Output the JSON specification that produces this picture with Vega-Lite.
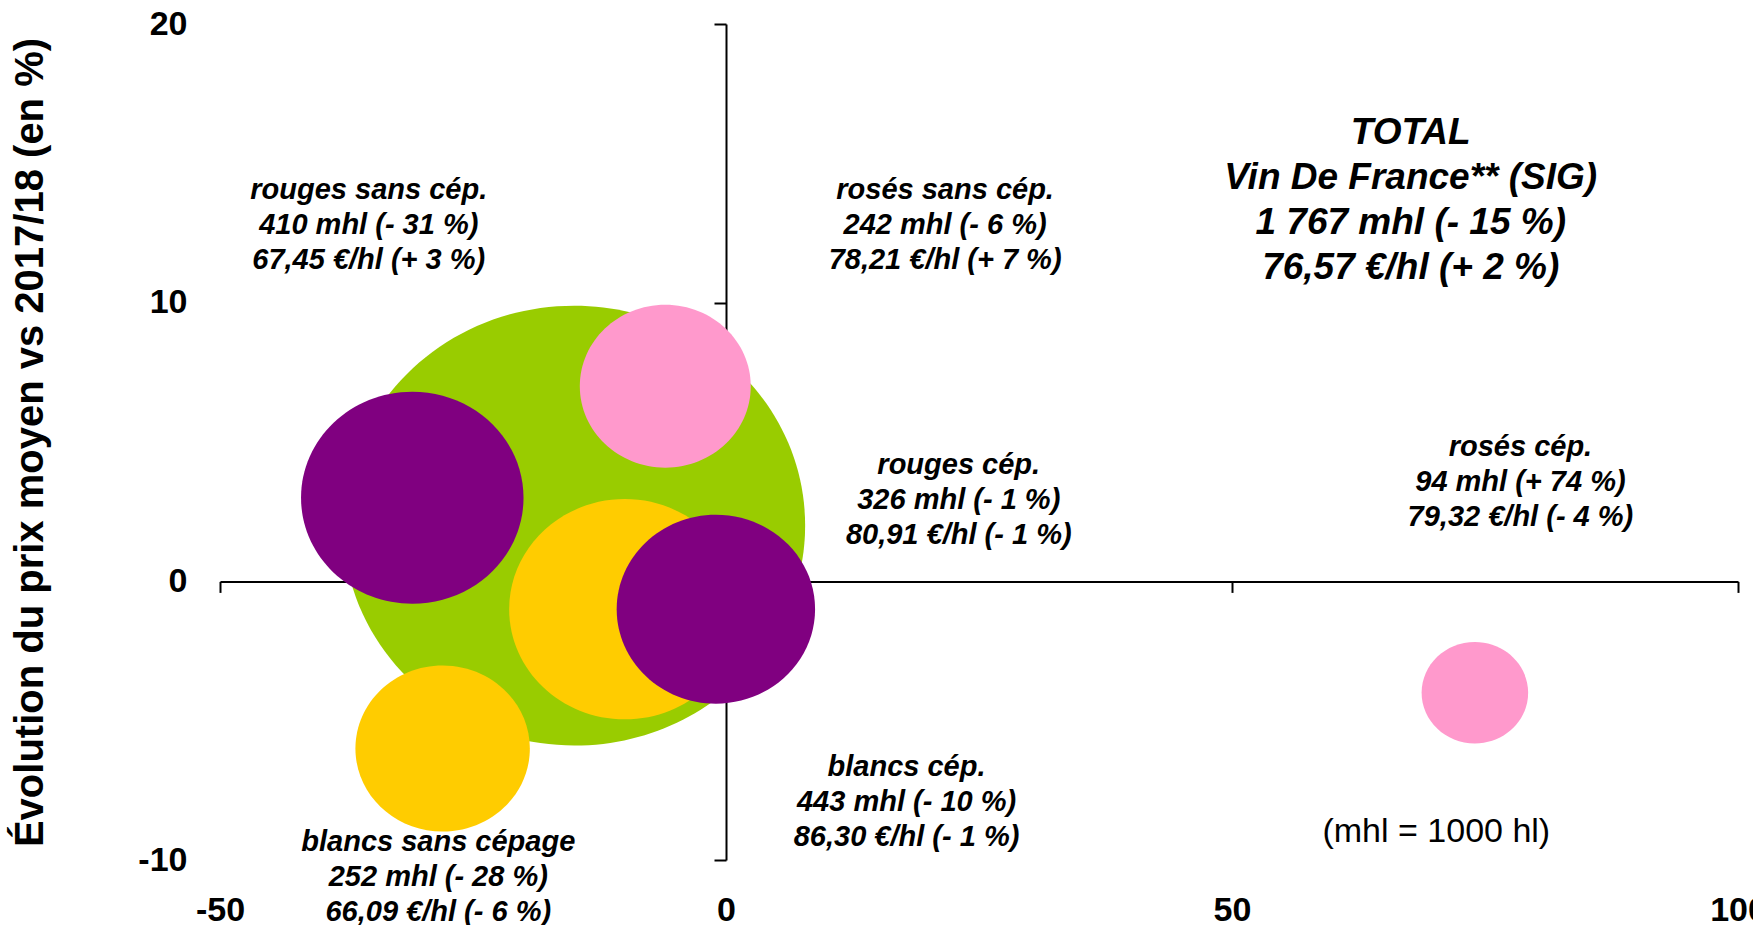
{
  "$schema": "https://vega.github.io/schema/vega-lite/v6.json",
  "width": 1518,
  "height": 836,
  "autosize": {"type": "none"},
  "padding": {"left": 220, "top": 24, "right": 15, "bottom": 65},
  "background": "white",
  "config": {"view": {"stroke": null}, "font": "Liberation Sans"},
  "datasets": {
    "bubbles": [
      {"cat": "TOTAL Vin De France", "type": "total", "vol": 1767, "dvol": -15, "dprix": 2, "z": 0},
      {"cat": "rouges sans cép.", "type": "rouge", "vol": 410, "dvol": -31, "dprix": 3, "z": 1},
      {"cat": "rosés sans cép.", "type": "rose", "vol": 242, "dvol": -6, "dprix": 7, "z": 2},
      {"cat": "blancs cép.", "type": "blanc", "vol": 443, "dvol": -10, "dprix": -1, "z": 3},
      {"cat": "rouges cép.", "type": "rouge", "vol": 326, "dvol": -1, "dprix": -1, "z": 4},
      {"cat": "blancs sans cépage", "type": "blanc", "vol": 252, "dvol": -28, "dprix": -6, "z": 5},
      {"cat": "rosés cép.", "type": "rose", "vol": 94, "dvol": 74, "dprix": -4, "z": 6}
    ],
    "labels": [
      {"lx": -35.3, "ly": 14.04, "txt": "rouges sans cép.\n410 mhl (- 31 %)\n67,45 €/hl (+ 3 %)"},
      {"lx": 21.65, "ly": 14.04, "txt": "rosés sans cép.\n242 mhl (- 6 %)\n78,21  €/hl (+ 7 %)"},
      {"lx": 23.0, "ly": 4.16, "txt": "rouges cép.\n326 mhl (- 1 %)\n80,91 €/hl (- 1 %)"},
      {"lx": 78.5, "ly": 4.81, "txt": "rosés cép.\n94 mhl (+ 74 %)\n79,32 €/hl (- 4 %)"},
      {"lx": 17.84, "ly": -6.67, "txt": "blancs cép.\n443 mhl (- 10 %)\n86,30 €/hl (- 1 %)"},
      {"lx": -28.43, "ly": -9.36, "txt": "blancs sans cépage\n252 mhl (- 28 %)\n66,09 €/hl (- 6 %)"}
    ],
    "total": [
      {"lx": 67.66, "ly": 16.08, "txt": "TOTAL\nVin De France** (SIG)\n1 767 mhl (- 15 %)\n76,57 €/hl (+ 2 %)"}
    ],
    "note": [
      {"lx": 70.19, "ly": -9.0, "txt": "(mhl = 1000 hl)"}
    ]
  },
  "layer": [
    {
      "data": {"name": "bubbles"},
      "mark": {"type": "point", "filled": true, "opacity": 1, "strokeWidth": 0,
               "shape": "M -1.05 0 A 1.05 1 0 1 0 1.05 0 A 1.05 1 0 1 0 -1.05 0 Z"},
      "encoding": {
        "x": {"field": "dvol", "type": "quantitative",
              "scale": {"domain": [-50, 100], "nice": false, "zero": false},
              "axis": {"title": null, "values": [-50, 0, 50, 100], "offset": -278.6,
                       "labelExpr": "'' + datum.value",
                       "domainColor": "black", "domainWidth": 2, "tickColor": "black", "tickWidth": 2,
                       "tickSize": 11, "labelPadding": 301, "labelFont": "Liberation Sans",
                       "labelFontSize": 34, "labelFontWeight": "bold", "labelColor": "black",
                       "grid": false, "labelFlush": false, "labelOverlap": false, "labelBound": false}},
        "y": {"field": "dprix", "type": "quantitative",
              "scale": {"domain": [-10, 20], "nice": false, "zero": false},
              "axis": {"title": "Évolution du prix moyen vs 2017/18 (en %)", "values": [-10, 0, 10, 20],
                       "labelExpr": "'' + datum.value",
                       "offset": -506, "domainColor": "black", "domainWidth": 2, "tickColor": "black",
                       "tickWidth": 2, "tickSize": 12, "labelPadding": 527, "labelFont": "Liberation Sans",
                       "labelFontSize": 34, "labelFontWeight": "bold", "labelColor": "black",
                       "grid": false, "labelOverlap": false, "labelBound": false, "labelFlush": false,
                       "maxExtent": 800,
                       "titleFont": "Liberation Sans", "titleFontSize": 40, "titleFontWeight": "bold",
                       "titleColor": "black", "titlePadding": 87}},
        "size": {"field": "vol", "type": "quantitative", "scale": {"domain": [0, 1767], "range": [0, 193500]}, "legend": null},
        "color": {"field": "type", "type": "nominal",
                  "scale": {"domain": ["total", "rouge", "rose", "blanc"], "range": ["#99CC00", "#800080", "#FF99CC", "#FFCC00"]},
                  "legend": null},
        "order": {"field": "z", "type": "quantitative"}
      }
    },
    {
      "data": {"name": "labels"},
      "mark": {"type": "text", "font": "Liberation Sans", "fontSize": 29, "fontWeight": "bold", "fontStyle": "italic",
               "lineBreak": "\n", "lineHeight": 35, "align": "center", "baseline": "middle", "color": "black"},
      "encoding": {
        "x": {"field": "lx", "type": "quantitative", "scale": {"domain": [-50, 100], "nice": false, "zero": false}},
        "y": {"field": "ly", "type": "quantitative", "scale": {"domain": [-10, 20], "nice": false, "zero": false}},
        "text": {"field": "txt"}
      }
    },
    {
      "data": {"name": "total"},
      "mark": {"type": "text", "font": "Liberation Sans", "fontSize": 37, "fontWeight": "bold", "fontStyle": "italic",
               "lineBreak": "\n", "lineHeight": 45, "align": "center", "baseline": "middle", "color": "black"},
      "encoding": {
        "x": {"field": "lx", "type": "quantitative", "scale": {"domain": [-50, 100], "nice": false, "zero": false}},
        "y": {"field": "ly", "type": "quantitative", "scale": {"domain": [-10, 20], "nice": false, "zero": false}},
        "text": {"field": "txt"}
      }
    },
    {
      "data": {"name": "note"},
      "mark": {"type": "text", "font": "Liberation Sans", "fontSize": 34, "fontWeight": "normal",
               "align": "center", "baseline": "middle", "color": "black"},
      "encoding": {
        "x": {"field": "lx", "type": "quantitative", "scale": {"domain": [-50, 100], "nice": false, "zero": false}},
        "y": {"field": "ly", "type": "quantitative", "scale": {"domain": [-10, 20], "nice": false, "zero": false}},
        "text": {"field": "txt"}
      }
    }
  ]
}
